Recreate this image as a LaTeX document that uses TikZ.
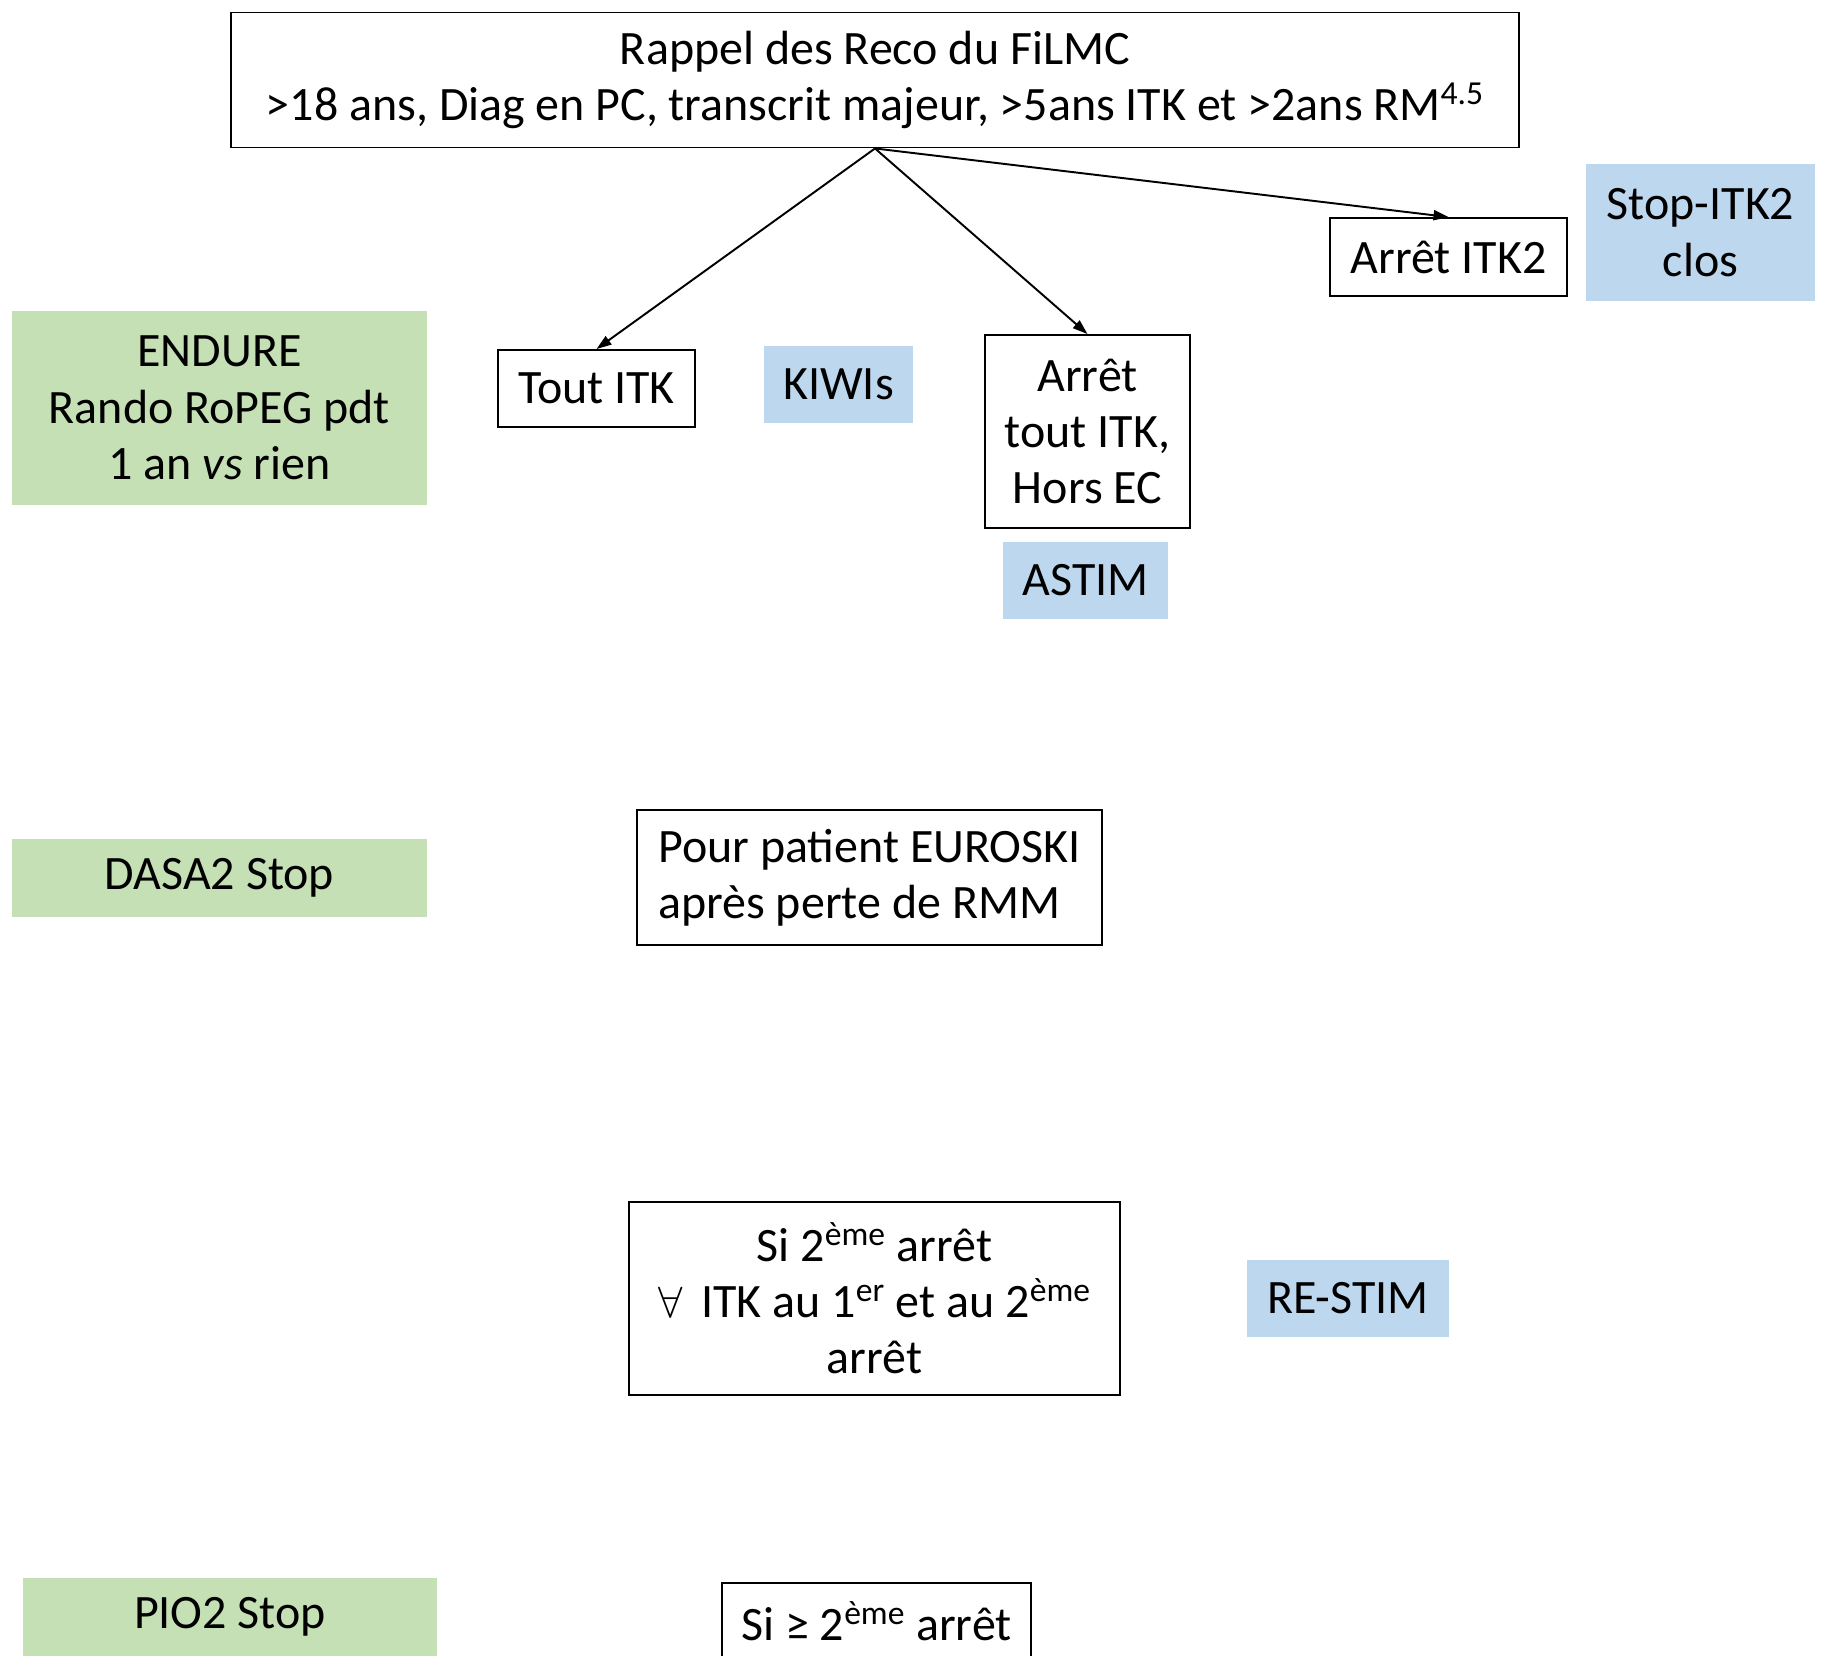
\documentclass[tikz,border=0pt]{standalone}
\usepackage{fontspec}
\setmainfont{Carlito}
\usetikzlibrary{arrows.meta}

\definecolor{vertclair}{HTML}{C5E0B4}
\definecolor{bleuclair}{HTML}{BDD7EE}

\tikzset{
    cadre/.style={draw, line width=1.1pt, align=center, inner sep=0pt},
    vert/.style={fill=vertclair, align=center, inner sep=0pt},
    bleu/.style={fill=bleuclair, align=center, inner sep=0pt},
    fleche/.style={line width=1.1pt, -{Triangle[length=0.3cm,width=0.2cm]}}
}

\begin{document}
\begin{tikzpicture}[font=\fontsize{27.3}{32}\selectfont]
    % page, cut at the bottom edge
    \clip (0,0) rectangle (36.58,-33.12);
    \fill[white] (0,0) rectangle (36.58,-33.12);

    % The FiLMC reminder on top
    \node[cadre, minimum width=25.76cm, minimum height=2.7cm] (reco) at (17.5,-1.6)
        {Rappel des Reco du FiLMC\\>18 ans, Diag en PC, transcrit majeur, >5ans ITK et >2ans RM\textsuperscript{4.5}};

    % The three branches
    \node[cadre, minimum width=3.94cm, minimum height=1.54cm] (tout) at (11.93,-7.77) {Tout ITK};
    \node[cadre, minimum width=4.1cm, minimum height=3.86cm] (arret) at (21.75,-8.63) {Arrêt\\tout ITK,\\Hors EC};
    \node[cadre, minimum width=4.74cm, minimum height=1.56cm] (itkdeux) at (28.97,-5.14) {Arrêt ITK2};

    \draw[fleche] (reco.south) -- (tout.north);
    \draw[fleche] (reco.south) -- (arret.north);
    \draw[fleche] (reco.south) -- (itkdeux.north);

    % Blue study labels
    \node[bleu, minimum width=2.98cm, minimum height=1.54cm] (kiwis) at (16.77,-7.69) {KIWIs};
    \node[bleu, minimum width=3.3cm, minimum height=1.54cm] (astim) at (21.71,-11.61) {ASTIM};
    \node[bleu, minimum width=4.58cm, minimum height=2.74cm] (stopitk) at (34.01,-4.65) {Stop-ITK2\\clos};
    \node[bleu, minimum width=4.04cm, minimum height=1.54cm] (restim) at (26.96,-25.97) {RE-STIM};

    % Green study labels on the left
    \node[vert, minimum width=8.3cm, minimum height=3.88cm] (endure) at (4.39,-8.16) {ENDURE\\Rando RoPEG pdt\\1 an \textit{vs} rien};
    \node[vert, minimum width=8.3cm, minimum height=1.56cm] (dasa) at (4.39,-17.56) {DASA2 Stop};
    \node[vert, minimum width=8.28cm, minimum height=1.56cm] (pio) at (4.6,-32.34) {PIO2 Stop};

    % Lower boxes
    \node[cadre, align=left, minimum width=9.3cm, minimum height=2.7cm] (euroski) at (17.39,-17.55)
        {Pour patient EUROSKI\\après perte de RMM};
    \node[cadre, minimum width=9.82cm, minimum height=3.86cm] (deuxieme) at (17.49,-25.97)
        {Si 2\textsuperscript{ème} arrêt\\$\forall$\, ITK au 1\textsuperscript{er} et au 2\textsuperscript{ème}\\arrêt};
    \node[cadre, minimum width=6.18cm, minimum height=1.54cm] (plus) at (17.53,-32.43)
        {Si ≥ 2\textsuperscript{ème} arrêt};
\end{tikzpicture}
\end{document}
